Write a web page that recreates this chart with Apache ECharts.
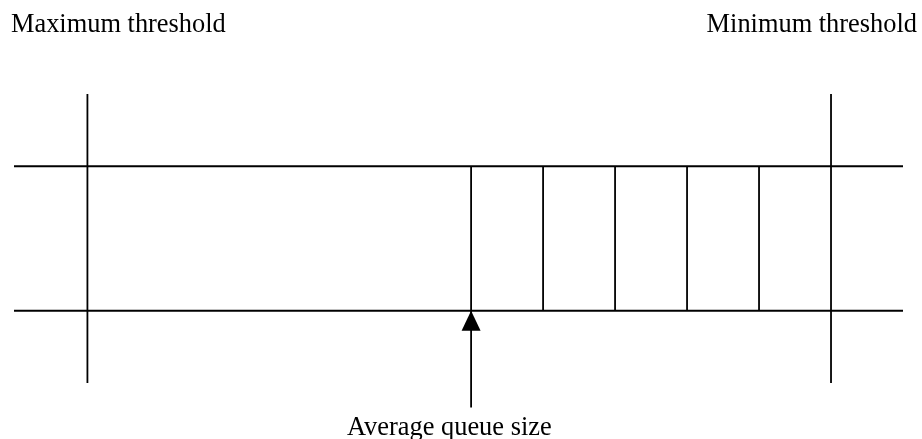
<!DOCTYPE html>
<html>
<head>
<meta charset="utf-8">
<script src="https://cdn.jsdelivr.net/npm/echarts@6/dist/echarts.min.js"></script>
<style>
  html, body { margin: 0; padding: 0; background: #fff; }
  #chart { width: 922px; height: 439px; }
</style>
</head>
<body>
<div id="chart"></div>
<script>
  // x in queue slots (one slot = one cell width), y: bottom of queue = 0, top = 1
  const lineSpan = [0, 12.35]
  const maxThreshold = 1.02
  const minThreshold = 11.35
  const cellEdges = [6.35, 7.35, 8.35, 9.35, 10.35]
  const queueBand = [0, 1]
  const thresholdSpan = [-0.5, 1.5]
  const avgQueue = 6.35
  const arrowFrom = -0.67
  const labels = ['Maximum threshold', 'Minimum threshold', 'Average queue size']

  const lineStyle = {color: '#000', width: 1.8}
  const font = '26.4px "Liberation Serif", "Times New Roman", serif'

  function seg(a, b) {
    return {
      type: 'line',
      data: [a, b],
      symbol: 'none',
      lineStyle: lineStyle,
      clip: false,
      silent: true,
      animation: false
    }
  }

  let series = []
  queueBand.forEach(y => series.push(seg([lineSpan[0], y], [lineSpan[1], y])))
  ;[maxThreshold, minThreshold].forEach(x => series.push(seg([x, thresholdSpan[0]], [x, thresholdSpan[1]])))
  cellEdges.forEach(x => series.push(seg([x, queueBand[0]], [x, queueBand[1]])))
  series.push({
    type: 'line',
    data: [
      {value: [avgQueue, arrowFrom], symbol: 'none'},
      {value: [avgQueue, queueBand[0]], symbol: 'triangle', symbolSize: [19, 20], symbolOffset: [0, 10]}
    ],
    lineStyle: lineStyle,
    itemStyle: {color: '#000', borderWidth: 0},
    clip: false,
    silent: true,
    animation: false
  })

  let chart = echarts.init(document.getElementById('chart'))
  chart.setOption({
    animation: false,
    grid: {left: 14, right: 19, top: 94, bottom: 56},
    xAxis: {type: 'value', min: lineSpan[0], max: lineSpan[1], show: false},
    yAxis: {type: 'value', min: thresholdSpan[0], max: thresholdSpan[1], show: false},
    graphic: [
      {type: 'text', left: 11, top: 12, style: {text: labels[0], font: font, fill: '#000'}},
      {type: 'text', right: 5, top: 12, style: {text: labels[1], font: font, fill: '#000'}},
      {type: 'text', left: 347, top: 415, style: {text: labels[2], font: font, fill: '#000'}}
    ],
    series: series
  })
</script>
</body>
</html>
